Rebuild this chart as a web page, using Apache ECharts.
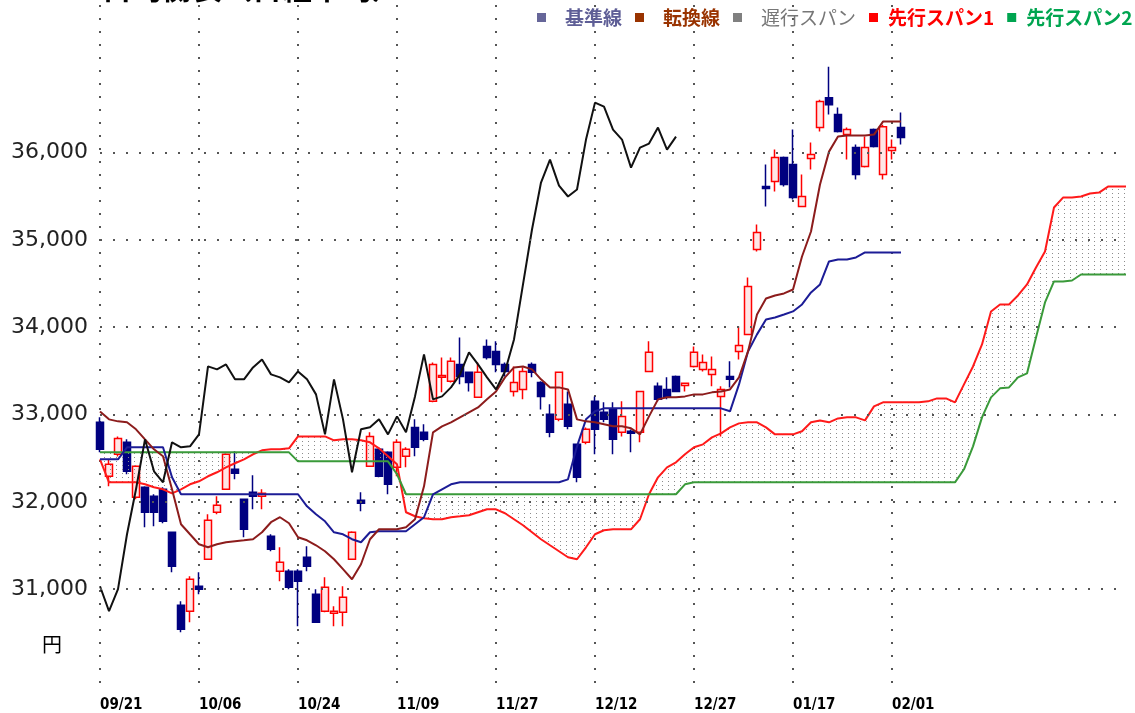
<!DOCTYPE html>
<html>
<head>
<meta charset="utf-8">
<script src="https://cdn.jsdelivr.net/npm/echarts@6/dist/echarts.min.js"></script>
<style>
  html, body { margin: 0; padding: 0; background: #fff; }
  #chart { width: 1135px; height: 713px; }
</style>
</head>
<body>
<div id="chart"></div>
<script>
const dates = [
  "09/21","09/22","09/25","09/26","09/27","09/28","09/29",
  "10/02","10/03","10/04","10/05","10/06","10/10","10/11","10/12","10/13","10/16","10/17","10/18","10/19","10/20","10/23","10/24","10/25","10/26","10/27","10/30","10/31",
  "11/01","11/02","11/06","11/07","11/08","11/09","11/10","11/13","11/14","11/15","11/16","11/17","11/20","11/21","11/22","11/24","11/27","11/28","11/29","11/30",
  "12/01","12/04","12/05","12/06","12/07","12/08","12/11","12/12","12/13","12/14","12/15","12/18","12/19","12/20","12/21","12/22","12/25","12/26","12/27","12/28","12/29",
  "01/04","01/05","01/09","01/10","01/11","01/12","01/15","01/16","01/17","01/18","01/19","01/22","01/23","01/24","01/25","01/26","01/29","01/30","01/31",
  "02/01","02/02",
  "02/05","02/06","02/07","02/08","02/09","02/13","02/14","02/15","02/16","02/19","02/20","02/21","02/22","02/26","02/27","02/28","02/29",
  "03/01","03/04","03/05","03/06","03/07","03/08","03/11","03/12"
];
const tickLabels = ["09/21","10/06","10/24","11/09","11/27","12/12","12/27","01/17","02/01"];
const yTicks = [31000, 32000, 33000, 34000, 35000, 36000];

const opens = [
  32911,32293,32545,32682,32053,32167,32064,32144,31652,30817,
  30748,31034,31343,31881,32144,32373,32030,32110,32064,31606,
  31206,31206,31206,31366,30943,30748,30725,30737,31343,32018,
  32407,32602,32567,32396,32522,32853,32796,33151,33426,33380,
  33574,33483,33197,33780,33723,33574,33265,33288,33574,33368,
  33002,32945,33117,32659,32682,33151,33025,33059,32796,32808,
  32796,33494,33323,33288,33437,33334,33551,33517,33460,33208,
  33437,33723,33918,34890,35611,35668,35943,35863,35382,35931,
  36286,36629,36435,36206,36057,35840,36263,35748,36023,36286
];
const closes = [
  32602,32430,32727,32350,32407,31881,31881,31778,31263,30542,
  31114,30999,31789,31961,32545,32327,31686,32064,32100,31457,
  31309,31023,31091,31263,30622,31023,30748,30909,31652,31984,
  32750,32293,32201,32682,32602,32625,32716,33574,33448,33609,
  33437,33368,33483,33654,33574,33494,33368,33494,33483,33208,
  32796,33483,32865,32281,32831,32831,32945,32716,32979,32785,
  33265,33712,33174,33197,33265,33357,33712,33597,33517,33288,
  33403,33792,34467,35085,35588,35943,35634,35485,35497,35977,
  36584,36549,36240,36263,35748,36057,36069,36297,36057,36172
];
const lows = [
  32568,32178,32521,32316,32030,31709,31721,31755,31194,30508,
  30622,30943,31343,31858,32144,32258,31595,31915,31915,31435,
  31091,31000,30576,31206,30622,30737,30576,30576,31343,31892,
  32407,32281,32087,32293,32396,32522,32693,33140,33254,33368,
  33346,33265,33197,33631,33483,33437,33208,33174,33426,33059,
  32739,32922,32831,32224,32659,32545,32911,32545,32750,32568,
  32682,33483,33151,33174,33254,33265,33540,33494,33323,32750,
  33311,33631,33918,34867,35382,35554,35611,35462,35382,35805,
  36240,36435,36229,35920,35691,35828,36057,35691,35920,36092
];
const highs = [
  32968,32487,32750,32716,32418,32178,32087,32167,31652,30862,
  31149,31194,31858,32064,32556,32579,32030,32304,32144,31629,
  31480,31229,31229,31492,31000,31137,30805,31034,31663,32110,
  32796,32625,32579,32716,32625,32945,32888,33597,33654,33654,
  33883,33494,33597,33860,33838,33597,33551,33540,33597,33380,
  33117,33494,33265,32659,32853,33208,33140,33140,33151,32830,
  33265,33838,33368,33426,33448,33368,33780,33689,33666,33323,
  33609,34009,34570,35176,35863,36034,35954,36263,35748,36114,
  36606,36984,36515,36286,36092,36183,36275,36320,36149,36458
];

// 基準線
const kijun = [
  32487,32487,32487,32625,32625,32625,32625,32625,32281,32087,
  32087,32087,32087,32087,32087,32087,32087,32087,32087,32087,
  32087,32087,32087,31949,31858,31778,31652,31629,31572,31538,
  31652,31663,31663,31663,31663,31744,31824,32087,32144,32201,
  32224,32224,32224,32224,32224,32224,32224,32224,32224,32224,
  32224,32224,32258,32636,32945,33037,33071,33071,33071,33071,
  33071,33071,33071,33071,33071,33071,33071,33071,33071,33071,
  33037,33345,33723,33918,34089,34112,34146,34181,34261,34398,
  34490,34753,34776,34776,34799,34856,34856,34856,34856,34856
];
// 転換線
const tenkan = [
  33036,32945,32922,32911,32831,32716,32602,32522,32144,31744,
  31629,31515,31481,31515,31538,31549,31560,31572,31652,31767,
  31824,31755,31595,31560,31503,31435,31343,31229,31114,31286,
  31572,31686,31686,31686,31709,31801,32178,32796,32865,32911,
  32968,33025,33082,33174,33265,33426,33540,33551,33517,33403,
  33311,33311,33288,32945,32922,32911,32888,32865,32865,32842,
  32773,32979,33174,33197,33197,33208,33231,33231,33254,33265,
  33288,33426,33723,34146,34329,34364,34387,34432,34810,35096,
  35634,36011,36183,36195,36195,36195,36206,36355,36355,36355
];
// 遅行スパン
const chikou = [
  31034,30748,31000,31629,32144,32716,32350,32224,32682,32625,
  32636,32773,33552,33517,33574,33403,33403,33540,33631,33460,
  33426,33368,33494,33403,33231,32773,33403,32945,32339,32831,
  32854,32945,32773,32979,32796,33208,33689,33174,33208,33311,
  33460,33712,33574,33426,33288,33494,33860,34490,35119,35657,
  35920,35622,35497,35577,36149,36572,36526,36263,36149,35828,
  36057,36103,36286,36034,36183
];
// 先行スパン1
const senkou1 = [
  32487,32224,32224,32224,32224,32201,32167,32144,32098,32144,
  32201,32236,32293,32339,32396,32442,32487,32545,32590,32602,
  32602,32613,32750,32750,32750,32750,32705,32716,32716,32705,
  32682,32613,32522,32430,31881,31835,31812,31801,31801,31824,
  31835,31847,31881,31915,31915,31870,31801,31732,31652,31572,
  31503,31435,31366,31343,31480,31629,31675,31686,31686,31686,
  31801,32087,32281,32396,32453,32545,32625,32659,32739,32785,
  32853,32899,32911,32911,32853,32773,32773,32773,32808,32911,
  32933,32911,32956,32968,32968,32933,33094,33140,33140,33140,
  33140,33140,33151,33185,33185,33140,33346,33551,33803,34181,
  34261,34261,34364,34490,34684,34867,35371,35485,35485,35497,
  35531,35542,35611,35611,35611
];
// 先行スパン2
const senkou2 = [
  32567,32567,32567,32567,32567,32567,32567,32567,32567,32567,
  32567,32567,32567,32567,32567,32567,32567,32567,32567,32567,
  32567,32567,32464,32464,32464,32464,32464,32464,32464,32464,
  32464,32464,32464,32316,32087,32087,32087,32087,32087,32087,
  32087,32087,32087,32087,32087,32087,32087,32087,32087,32087,
  32087,32087,32087,32087,32087,32087,32087,32087,32087,32087,
  32087,32087,32087,32087,32087,32201,32224,32224,32224,32224,
  32224,32224,32224,32224,32224,32224,32224,32224,32224,32224,
  32224,32224,32224,32224,32224,32224,32224,32224,32224,32224,
  32224,32224,32224,32224,32224,32224,32373,32636,32968,33197,
  33300,33311,33426,33471,33883,34284,34524,34524,34535,34604,
  34604,34604,34604,34604,34604
];

const candles = opens.map((o, i) => [o, closes[i], lows[i], highs[i]]);
const kumoBase = senkou1.map((v, i) => Math.min(v, senkou2[i]));
const kumoBand = senkou1.map((v, i) => Math.abs(v - senkou2[i]));

const dotPattern = document.createElement("canvas");
dotPattern.width = 6;
dotPattern.height = 4;
const pctx = dotPattern.getContext("2d");
pctx.fillStyle = "#8c8c8c";
pctx.fillRect(2, 1, 1, 1);

const dotted = { type: [2, 11], width: 2, color: "#555" };
const showTick = (index, value) => tickLabels.includes(value);
const legendFont = "Noto Sans CJK JP";

const chart = echarts.init(document.getElementById("chart"));
chart.setOption({
  animation: false,
  legend: {
    left: 532,
    top: 3,
    width: 620,
    itemWidth: 9,
    itemHeight: 9,
    itemGap: 13,
    icon: "rect",
    selectedMode: false,
    textStyle: { fontSize: 19, fontWeight: "bold", fontFamily: legendFont },
    data: [
      { name: "基準線", itemStyle: { color: "#666699" }, textStyle: { color: "#5e5e96", padding: [0, 0, 0, 14] } },
      { name: "転換線", itemStyle: { color: "#993300" }, textStyle: { color: "#993300", padding: [0, 0, 0, 14] } },
      { name: "遅行スパン", itemStyle: { color: "#808080" }, textStyle: { color: "#777", fontWeight: "normal", padding: [0, 0, 0, 14] } },
      { name: "先行スパン1", itemStyle: { color: "#ff0000" }, textStyle: { color: "#ff0000", padding: [0, 0, 0, 5] } },
      { name: "先行スパン2", itemStyle: { color: "#00a550" }, textStyle: { color: "#00a550", padding: [0, 0, 0, 5] } },
    ],
  },
  graphic: [
    {
      type: "text",
      x: 72,
      y: -27,
      style: {
        text: "一目均衡表（日経平均）",
        font: "bold 30px 'Noto Sans CJK JP'",
        fill: "#000",
        verticalAlign: "top",
      },
    },
    { type: "text", left: 42, top: 634, style: { text: "円", font: "20px 'Noto Sans CJK JP'", fill: "#000" } },
  ],
  grid: { left: 100, right: 9, top: 5, bottom: 25 },
  xAxis: {
    type: "category",
    data: dates,
    boundaryGap: false,
    axisLine: { show: false },
    axisTick: { show: false },
    axisLabel: {
      interval: showTick,
      align: "left",
      margin: 11,
      color: "#000",
      fontSize: 15,
      fontWeight: "bold",
      fontFamily: "'Liberation Sans Narrow', 'DejaVu Sans Condensed', sans-serif",
    },
    splitLine: { show: true, interval: showTick, lineStyle: dotted },
  },
  yAxis: {
    type: "value",
    min: 29880,
    max: 37690,
    axisLine: { show: false },
    axisTick: { show: false },
    splitLine: { show: false },
    axisLabel: {
      customValues: yTicks,
      margin: 12,
      color: "#222",
      fontSize: 22,
      fontFamily: "'DejaVu Sans', sans-serif",
      formatter: (v) => v.toLocaleString("en-US"),
    },
  },
  series: [
    {
      name: "日足",
      type: "candlestick",
      data: candles,
      barWidth: 7,
      clip: false,
      itemStyle: {
        color: "#ffe6e6",
        color0: "#000080",
        borderColor: "#ff0000",
        borderColor0: "#000080",
        borderWidth: 1.5,
      },
      markLine: {
        silent: true,
        symbol: ["none", "none"],
        label: { show: false },
        lineStyle: dotted,
        data: yTicks.map((v) => ({ yAxis: v })),
      },
    },
    {
      name: "kumoBase",
      type: "line",
      stack: "kumo",
      data: kumoBase,
      symbol: "none",
      lineStyle: { opacity: 0 },
      silent: true,
    },
    {
      name: "kumoBand",
      type: "line",
      stack: "kumo",
      data: kumoBand,
      symbol: "none",
      lineStyle: { opacity: 0 },
      areaStyle: { color: { image: dotPattern, repeat: "repeat" }, opacity: 1 },
      silent: true,
    },
    { name: "先行スパン1", type: "line", data: senkou1, symbol: "none", color: "#ff0000", lineStyle: { width: 2, color: "#ff1a1a" } },
    { name: "先行スパン2", type: "line", data: senkou2, symbol: "none", color: "#00a550", lineStyle: { width: 2, color: "#3a9a3a" } },
    { name: "基準線", type: "line", data: kijun, symbol: "none", color: "#666699", lineStyle: { width: 2, color: "#1c1c96" } },
    { name: "転換線", type: "line", data: tenkan, symbol: "none", color: "#993300", lineStyle: { width: 2, color: "#8c1c1c" } },
    { name: "遅行スパン", type: "line", data: chikou, symbol: "none", color: "#808080", lineStyle: { width: 2, color: "#111" } },
  ],
});
</script>
</body>
</html>
